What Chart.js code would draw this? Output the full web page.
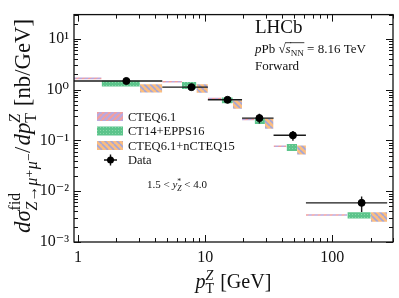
<!DOCTYPE html>
<html><head><meta charset="utf-8">
<script src="https://cdn.jsdelivr.net/npm/chart.js@4.4.0/dist/chart.umd.min.js"></script>
<style>html,body{margin:0;padding:0;background:#fff}#wrap{width:399px;height:298px}</style>
</head><body><div id="wrap"><canvas id="c" width="399" height="298"></canvas></div>
<script>
// ---- data ----
const binEdges = [0, 4.6, 10.5, 19.5, 34.5, 62, 270];
const dataX    = [2.4, 7.8, 15, 26.7, 49, 170];
const dataY    = [1.48, 1.12, 0.63, 0.275, 0.126, 0.0059];
const dataErrY = [0.10, 0.08, 0.06, 0.06, 0.027, 0.002];
const cteqLo  = [1.60, 1.38, 0.64, 0.25, 0.074, 0.0033];
const cteqHi  = [1.74, 1.48, 0.69, 0.27, 0.079, 0.0035];
const ct14Lo  = [1.15, 1.03, 0.54, 0.21, 0.062, 0.0029];
const ct14Hi  = [1.50, 1.41, 0.70, 0.27, 0.085, 0.00385];
const ncteqLo = [0.88, 0.87, 0.42, 0.17, 0.053, 0.0025];
const ncteqHi = [1.28, 1.28, 0.61, 0.27, 0.079, 0.00385];
const modelNames = ['CTEQ6.1', 'CT14+EPPS16', 'CTEQ6.1+nCTEQ15'];
const xTickValues = [1, 10, 100];
const xTickLabels = ['1', '10', '100'];
const yTickValues = [0.001, 0.01, 0.1, 1, 10];
const yTickLabels = ['10\u207B\u00B3', '10\u207B\u00B2', '10\u207B\u00B9', '10\u2070', '10\u00B9'];

const FONT = '"Liberation Serif", "DejaVu Serif", serif';
const canvas = document.getElementById('c');
const ctx = canvas.getContext('2d');

function makeHatch(base, stripe, dir, lw, size) {
  const c = document.createElement('canvas'); c.width = c.height = size;
  const g = c.getContext('2d');
  g.fillStyle = base; g.fillRect(0, 0, size, size);
  g.strokeStyle = stripe; g.lineWidth = lw; g.beginPath();
  for (let k = -1; k <= 1; k++) {
    if (dir === '/') { g.moveTo(k * size, size); g.lineTo(k * size + size, 0); }
    else { g.moveTo(k * size, 0); g.lineTo(k * size + size, size); }
  }
  g.stroke();
  return ctx.createPattern(c, 'repeat');
}
function makeDots(base, dot) {
  const c = document.createElement('canvas'); c.width = c.height = 3;
  const g = c.getContext('2d');
  g.fillStyle = base; g.fillRect(0, 0, 3, 3);
  g.fillStyle = dot; g.fillRect(1, 1, 1, 1);
  return ctx.createPattern(c, 'repeat');
}
const patterns = [
  makeHatch('#bba8de', '#f39f9c', '/', 2, 6),
  makeDots('#5cc48b', '#8ad9aa'),
  makeHatch('#fbbd80', '#a4a6d8', '\\', 1.6, 6)
];
const models = [
  {lo: cteqLo, hi: cteqHi},
  {lo: ct14Lo, hi: ct14Hi},
  {lo: ncteqLo, hi: ncteqHi}
];
const X_MIN = 0.93, X_MAX = 300, OFF_LEFT = 0.5;

const datasets = [];
// data points
datasets.push({
  data: dataX.map((x, i) => ({x, y: dataY[i]})),
  showLine: false, pointRadius: 3.5, pointHoverRadius: 3.5,
  pointBackgroundColor: '#000', pointBorderColor: '#000', borderColor: '#000', order: 0
});
// error bars
dataX.forEach((x, i) => {
  const e0 = binEdges[i] > 0 ? binEdges[i] : OFF_LEFT;
  datasets.push({data: [{x: e0, y: dataY[i]}, {x: binEdges[i + 1], y: dataY[i]}],
    borderColor: '#1a1a1a', borderWidth: 1.4, pointRadius: 0, fill: false, order: 1});
  datasets.push({data: [{x, y: dataY[i] - dataErrY[i]}, {x, y: dataY[i] + dataErrY[i]}],
    borderColor: '#1a1a1a', borderWidth: 1.4, pointRadius: 0, fill: false, order: 1});
});
// theory boxes: each bin split in three equal parts
models.forEach((m, mi) => {
  for (let i = 0; i < binEdges.length - 1; i++) {
    const e0 = binEdges[i], e1 = binEdges[i + 1];
    let a = e0 + (e1 - e0) * mi / 3; const b = e0 + (e1 - e0) * (mi + 1) / 3;
    if (a <= 0) a = OFF_LEFT;
    datasets.push({data: [{x: a, y: m.hi[i]}, {x: b, y: m.hi[i]}], fill: '+1',
      backgroundColor: patterns[mi], borderColor: 'rgba(0,0,0,0)', borderWidth: 1, pointRadius: 0, order: 2});
    datasets.push({data: [{x: a, y: m.lo[i]}, {x: b, y: m.lo[i]}], fill: false,
      borderColor: 'rgba(0,0,0,0)', borderWidth: 1, pointRadius: 0, order: 2});
  }
});

// ---- text helpers ----
function fontOf(r, B) { return (r.it ? 'italic ' : '') + (B * (r.s || 1)).toFixed(2) + 'px ' + FONT; }
function runW(c, r, B) {
  if (r.stack) return Math.max(...r.stack.map(q => runW(c, q, B))) + (r.gap || 0) * B;
  c.font = fontOf(r, B); return c.measureText(r.t).width + (r.gap || 0) * B;
}
function runsWidth(c, runs, B) { return runs.reduce((s, r) => s + runW(c, r, B), 0); }
function drawRuns(c, runs, x, y, B) {
  c.textBaseline = 'alphabetic'; c.textAlign = 'left';
  let cx = x;
  for (const r of runs) {
    const w = runW(c, r, B);
    const items = r.stack ? r.stack : [r];
    for (const q of items) {
      c.font = fontOf(q, B);
      c.fillText(q.t, cx, y + (q.dy || 0) * B);
      if (q.ovl) { const qw = c.measureText(q.t).width; c.fillRect(cx - 0.5, y - B * 0.82, qw + 1, 0.8); }
    }
    cx += w;
  }
  return cx;
}

const decor = {
  id: 'decor',
  afterDraw(chart) {
    const c = chart.ctx, a = chart.chartArea, xs = chart.scales.x, ys = chart.scales.y;
    c.save();
    c.strokeStyle = '#111'; c.lineWidth = 1;
    c.beginPath();
    for (let d = -1; d <= 3; d++) for (let k = 1; k <= 9; k++) {
      const v = k * Math.pow(10, d);
      if (v < xs.min || v > xs.max) continue;
      const p = Math.round(xs.getPixelForValue(v)) + 0.5, L = k === 1 ? 7 : 4;
      c.moveTo(p, a.bottom); c.lineTo(p, a.bottom - L);
      c.moveTo(p, a.top); c.lineTo(p, a.top + L);
    }
    for (let d = -4; d <= 2; d++) for (let k = 1; k <= 9; k++) {
      const v = k * Math.pow(10, d);
      if (v < ys.min || v > ys.max) continue;
      const p = Math.round(ys.getPixelForValue(v)) + 0.5, L = k === 1 ? 7 : 4;
      c.moveTo(a.left, p); c.lineTo(a.left + L, p);
      c.moveTo(a.right, p); c.lineTo(a.right - L, p);
    }
    c.stroke();
    c.lineWidth = 1.3;
    c.strokeRect(a.left, a.top, a.right - a.left, a.bottom - a.top);

    c.fillStyle = '#111';
    // x title
    const xr = [{t: 'p', it: 1}, {stack: [{t: 'Z', it: 1, s: 0.7, dy: -0.42}, {t: 'T', s: 0.7, dy: 0.25}], gap: 0.05},
                {t: ' [GeV]'}];
    let B = 20;
    B = B * 76 / runsWidth(c, xr, B);
    drawRuns(c, xr, (a.left + a.right) / 2 - runsWidth(c, xr, B) / 2, 288, B);
    // y title
    const yr = [{t: 'd', it: 1}, {t: '\u03C3', it: 1},
      {stack: [{t: 'fid', s: 0.7, dy: -0.45}, {t: 'Z\u2192\u03BC\u207A\u03BC\u207B', it: 1, s: 0.7, dy: 0.3}]},
      {t: '/', gap: 0.05}, {t: 'dp', it: 1},
      {stack: [{t: 'Z', it: 1, s: 0.7, dy: -0.42}, {t: 'T', s: 0.7, dy: 0.25}], gap: 0.05},
      {t: ' [nb/GeV]'}];
    let By = 20;
    By = By * 214 / runsWidth(c, yr, By);
    c.save();
    c.translate(30, 126); c.rotate(-Math.PI / 2);
    drawRuns(c, yr, -runsWidth(c, yr, By) / 2, 0, By);
    c.restore();

    // annotations
    c.font = '19px ' + FONT; c.textAlign = 'left'; c.textBaseline = 'alphabetic';
    c.fillText('LHCb', 255, 33);
    const ar = [{t: 'p', it: 1}, {t: 'Pb '}, {t: '\u221A'}, {t: 's', it: 1, ovl: 1}, {t: 'NN', s: 0.7, dy: 0.2, ovl: 1},
                {t: ' = 8.16 TeV'}];
    drawRuns(c, ar, 255, 53, 13);
    c.font = '13px ' + FONT; c.fillText('Forward', 255, 70);
    const rr = [{t: '1.5 < '}, {t: 'y', it: 1}, {stack: [{t: '*', s: 0.7, dy: -0.4}, {t: 'Z', it: 1, s: 0.7, dy: 0.25}]},
                {t: ' < 4.0'}];
    drawRuns(c, rr, 147, 188, 11);

    // legend
    const ly = [116.5, 131, 145.5];
    ly.forEach((yy, i) => {
      c.fillStyle = patterns[i]; c.fillRect(97, yy - 4.5, 26, 9);
      c.fillStyle = '#111'; c.font = '12.5px ' + FONT; c.fillText(modelNames[i], 128, yy + 4.3);
    });
    c.strokeStyle = '#111'; c.lineWidth = 1.4; c.beginPath();
    c.moveTo(104, 160); c.lineTo(117, 160); c.moveTo(110.5, 154.5); c.lineTo(110.5, 165.5); c.stroke();
    c.beginPath(); c.arc(110.5, 160, 3.5, 0, Math.PI * 2); c.fillStyle = '#000'; c.fill();
    c.fillStyle = '#111'; c.fillText('Data', 128, 164.3);
    c.restore();
  }
};

function isPow(v, list) { return list.findIndex(t => Math.abs(Math.log10(v) - Math.log10(t)) < 1e-6); }

new Chart(ctx, {
  type: 'line',
  data: {datasets},
  options: {
    responsive: false, animation: false, devicePixelRatio: 1,
    layout: {padding: {top: 5, right: 6, left: 0, bottom: 0}},
    plugins: {legend: {display: false}, tooltip: {enabled: false}},
    elements: {line: {tension: 0}},
    scales: {
      x: {
        type: 'logarithmic', min: X_MIN, max: X_MAX,
        grid: {display: false, drawTicks: false}, border: {display: false},
        afterFit: s => { s.height = 56; },
        ticks: {autoSkip: false, maxRotation: 0, padding: 6, color: '#111',
          font: {family: FONT, size: 16},
          callback: v => { const k = isPow(v, xTickValues); return k >= 0 ? xTickLabels[k] : ''; }}
      },
      y: {
        type: 'logarithmic', min: 0.001, max: 30,
        grid: {display: false, drawTicks: false}, border: {display: false},
        afterFit: s => { s.width = 74; },
        ticks: {autoSkip: false, padding: 5, color: '#111',
          font: {family: FONT, size: 16},
          callback: v => { const k = isPow(v, yTickValues); return k >= 0 ? yTickLabels[k] : ''; }}
      }
    }
  },
  plugins: [decor]
});
</script></body></html>
